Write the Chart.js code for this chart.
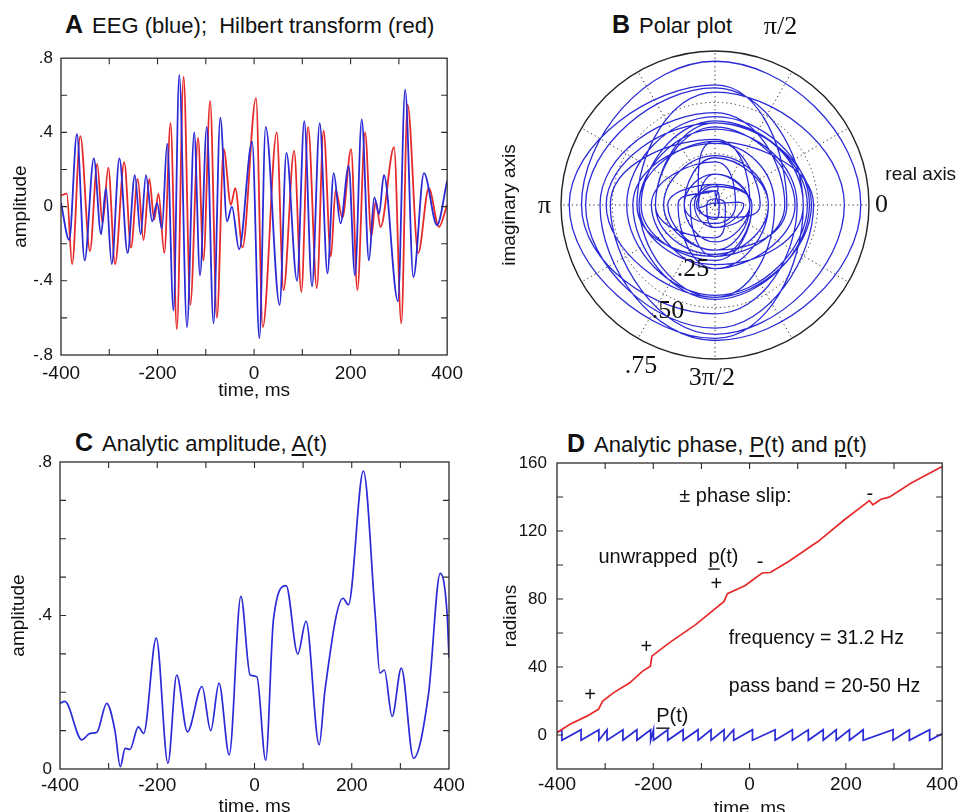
<!DOCTYPE html>
<html>
<head>
<meta charset="utf-8">
<title>EEG analytic signal</title>
<script src="https://cdn.jsdelivr.net/npm/chart.js@4.4.1/dist/chart.umd.min.js"></script>
<style>
html,body{margin:0;padding:0;background:#fff;}
body{position:relative;width:962px;height:812px;overflow:hidden;}
canvas{position:absolute;}
.ttl{position:absolute;font-family:"Liberation Sans",Arial,Helvetica,sans-serif;font-size:22px;line-height:26px;color:#111;white-space:nowrap;}
.ttl b{font-size:25px;margin-right:9px;}
.ttl u{text-decoration:underline;text-underline-offset:3px;text-decoration-thickness:1.5px;}
</style>
</head>
<body>
<div class="ttl" style="left:65px;top:11px"><b>A</b>EEG (blue);&nbsp; Hilbert transform (red)</div>
<div class="ttl" style="left:612px;top:11px"><b>B</b>Polar plot</div>
<div class="ttl" style="left:75px;top:429px"><b>C</b>Analytic amplitude, <u>A</u>(t)</div>
<div class="ttl" style="left:567px;top:430px"><b>D</b>Analytic phase, <u>P</u>(t) and <u>p</u>(t)</div>
<canvas id="chartA" width="470" height="370" style="left:0;top:40px"></canvas>
<canvas id="chartB" width="492" height="400" style="left:470px;top:0"></canvas>
<canvas id="chartC" width="470" height="380" style="left:0;top:440px"></canvas>
<canvas id="chartD" width="492" height="380" style="left:470px;top:440px"></canvas>
<script>
// ---------------- data ----------------
// Panel A: EEG (blue) extrema, time in ms / amplitude
const eegT = [-400,-383,-367,-351,-332,-317,-307,-295,-279,-262,-247,-235,-224,-211,-201,-191,-180,-167,-155,-139,-124,-112,-98,-84,-70,-56,-46,-31,-4,11,24,53,67,89,104,120,136,152,165,179,196,209,223,238,249,259,269,298,313,330,352,379,400];
const eegV = [0.02,-0.18,0.39,-0.29,0.26,-0.15,0.10,-0.31,0.26,-0.25,0.17,-0.15,0.17,-0.08,0.02,-0.12,0.34,-0.56,0.71,-0.65,0.40,-0.37,0.43,-0.63,0.48,-0.08,0.0,-0.23,0.35,-0.71,0.43,-0.53,0.29,-0.40,0.46,-0.43,0.45,-0.36,0.18,-0.09,0.22,-0.37,0.47,-0.29,0.05,-0.04,0.17,-0.51,0.63,-0.38,0.18,-0.10,0.14];
// Panel A: Hilbert transform (red) extrema
const hilT = [-400,-388,-377,-360,-340,-325,-314,-302,-288,-269,-255,-241,-229,-217,-207,-198,-186,-173,-160,-146,-132,-116,-105,-91,-77,-63,-48,-39,-24,4,18,47,61,83,98,112,130,144,159,169,183,201,214,230,243,252,262,290,305,318,340,362,383,400];
const hilV = [0.06,0.07,-0.31,0.38,-0.24,0.23,-0.09,0.21,-0.31,0.24,-0.22,0.15,-0.18,0.15,-0.07,0.07,-0.25,0.45,-0.66,0.70,-0.53,0.37,-0.29,0.57,-0.60,0.31,0.01,0.10,-0.22,0.585,-0.65,0.40,-0.45,0.30,-0.46,0.43,-0.44,0.41,-0.27,0.09,-0.06,0.31,-0.45,0.40,-0.16,0.03,-0.11,0.32,-0.63,0.55,-0.25,0.10,-0.11,0.01];
// Panel C: analytic amplitude
const ampT = [-400,-390,-355,-338,-324,-304,-287,-276,-266,-256,-239,-228,-202,-178,-160,-138,-108,-90,-73,-52,-28,-9,5,23,39,65,89,106,133,145,182,193,224,248,258,267,283,302,327,358,382,396,400];
const ampV = [0.171,0.176,0.076,0.093,0.096,0.171,0.10,0.006,0.054,0.051,0.11,0.093,0.341,0.015,0.245,0.097,0.215,0.10,0.224,0.037,0.45,0.245,0.24,0.023,0.39,0.478,0.30,0.385,0.063,0.206,0.445,0.428,0.776,0.406,0.25,0.258,0.137,0.263,0.028,0.197,0.51,0.406,0.29];
// Panel D: unwrapped phase p(t), radians
const phaseT = [-400,-373,-338,-314,-305,-283,-249,-222,-206,-203,-167,-112,-53,-46,-9,26,43,81,142,197,249,256,273,290,335,400];
const phaseV = [1.4,6.3,11.1,15.1,20.0,24.8,30.7,37.6,40.5,46.4,54.2,64.9,78.6,83.1,88.0,95.3,95.6,102.1,113.8,126.6,137.9,135.4,138.7,139.9,148.1,157.9];
// Panel D: wrapped phase P(t) - times of the -pi/+pi wraps, and its levels
const wrapT = [-390,-350,-313,-296,-263,-234,-205.5,-199.6,-170,-138,-107,-80,-53,-33,6,53,89,122,153,180,207.5,236,298,332,374];
const wrapHi = 3.1, wrapLo = -3.1;
const wrapStart = 1.4, wrapEnd = 0.8;
// tick labels
const timeTicks = [-400,-200,0,200,400];
const timeTickLabels = ['-400','-200','0','200','400'];
const ampTicksA = [-0.8,-0.4,0,0.4,0.8];
const ampTickLabelsA = ['-.8','-.4','0','.4','.8'];
const ampTicksC = [0,0.4,0.8];
const ampTickLabelsC = ['0','.4','.8'];
const radTicks = [0,40,80,120,160];
const radTickLabels = ['0','40','80','120','160'];
const polarRings = [0.25,0.5,0.75];
const polarRingLabels = ['.25','.50','.75'];
const polarAngleLabels = ['0','\u03c0/2','\u03c0','3\u03c0/2'];

// ---------------- helpers ----------------
const SANS = '"Liberation Sans", Arial, Helvetica, sans-serif';
const SERIF = '"Liberation Serif", "Times New Roman", serif';
const BLUE = '#2a2ad6', RED = '#e62a2a', INK = '#111';
Chart.defaults.font.family = SANS;
Chart.defaults.color = INK;
Chart.defaults.animation = false;

const pts = (T, V) => T.map((t, i) => ({x: t, y: V[i]}));
const labelFor = (vals, labels) => v => {
  const i = vals.findIndex(a => Math.abs(a - v) < 1e-6);
  return i < 0 ? '' : labels[i];
};

const boxTicks = {
  id: 'boxTicks',
  afterDatasetsDraw(chart) {
    const {ctx, chartArea: a} = chart;
    const xs = chart.scales.x, ys = chart.scales.y;
    ctx.save();
    ctx.strokeStyle = '#2b2b2b';
    ctx.lineWidth = 1.3;
    ctx.strokeRect(a.left, a.top, a.right - a.left, a.bottom - a.top);
    const L = 6;
    ctx.lineWidth = 1.1;
    ctx.beginPath();
    xs.ticks.forEach(t => {
      const p = xs.getPixelForValue(t.value);
      if (p <= a.left + 1 || p >= a.right - 1) return;
      ctx.moveTo(p, a.bottom); ctx.lineTo(p, a.bottom - L);
      ctx.moveTo(p, a.top); ctx.lineTo(p, a.top + L);
    });
    ys.ticks.forEach(t => {
      const p = ys.getPixelForValue(t.value);
      if (p <= a.top + 1 || p >= a.bottom - 1) return;
      ctx.moveTo(a.left, p); ctx.lineTo(a.left + L, p);
      ctx.moveTo(a.right, p); ctx.lineTo(a.right - L, p);
    });
    ctx.stroke();
    ctx.restore();
  }
};

const texts = {
  id: 'texts',
  afterDraw(chart, args, opts) {
    const items = opts.items || [];
    const ctx = chart.ctx;
    const xs = chart.scales.x, ys = chart.scales.y;
    items.forEach(it => {
      ctx.save();
      ctx.font = (it.weight || '') + ' ' + it.size + 'px ' + (it.family || SANS);
      ctx.fillStyle = INK;
      const align = it.align || 'center';
      ctx.textAlign = align;
      ctx.textBaseline = it.baseline || 'alphabetic';
      ctx.translate(xs.getPixelForValue(it.x), ys.getPixelForValue(it.y));
      if (it.rot) ctx.rotate(it.rot);
      ctx.fillText(it.text, 0, 0);
      if (it.u != null) {
        const total = ctx.measureText(it.text).width;
        const left = align === 'left' ? 0 : align === 'center' ? -total / 2 : -total;
        const w0 = ctx.measureText(it.text.slice(0, it.u)).width;
        const w1 = ctx.measureText(it.text[it.u]).width;
        ctx.fillRect(left + w0, it.size * 0.27, w1, 1.4);
      }
      ctx.restore();
    });
  }
};

const polarGrid = {
  id: 'polarGrid',
  beforeDatasetsDraw(chart) {
    const {ctx} = chart;
    const xs = chart.scales.x, ys = chart.scales.y;
    const cx = xs.getPixelForValue(0), cy = ys.getPixelForValue(0);
    const R = v => xs.getPixelForValue(v) - cx;
    const rmax = R(polarRings[polarRings.length - 1]);
    ctx.save();
    ctx.setLineDash([1.3, 3]);
    ctx.strokeStyle = '#333';
    ctx.lineWidth = 1;
    polarRings.slice(0, -1).forEach(r => {
      ctx.beginPath(); ctx.arc(cx, cy, R(r), 0, 2 * Math.PI); ctx.stroke();
    });
    for (let k = 0; k < 12; k++) {
      const a = k * Math.PI / 6;
      ctx.beginPath();
      ctx.moveTo(cx, cy);
      ctx.lineTo(cx + rmax * Math.cos(a), cy - rmax * Math.sin(a));
      ctx.stroke();
    }
    ctx.setLineDash([]);
    ctx.lineWidth = 1.4;
    ctx.strokeStyle = '#222';
    ctx.beginPath(); ctx.arc(cx, cy, rmax, 0, 2 * Math.PI); ctx.stroke();
    ctx.restore();
  }
};

function timeAxis(height, pad, titlePad) {
  return {
    type: 'linear', min: -400, max: 400,
    ticks: {stepSize: 100, autoSkip: false, maxRotation: 0, font: {size: 19}, padding: pad,
            callback: labelFor(timeTicks, timeTickLabels)},
    grid: {display: false, drawTicks: false}, border: {display: false},
    title: {display: true, text: 'time, ms', font: {size: 19}, padding: {top: 0, bottom: titlePad}},
    afterFit: s => { s.height = height; }
  };
}
function valueAxis(min, max, step, vals, labels, width, title, titlePad, pad) {
  return {
    type: 'linear', min, max,
    ticks: {stepSize: step, autoSkip: false, font: {size: 17}, padding: pad,
            callback: labelFor(vals, labels)},
    grid: {display: false, drawTicks: false}, border: {display: false},
    title: {display: true, text: title, font: {size: 19}, padding: {top: titlePad, bottom: 0}},
    afterFit: s => { s.width = width; }
  };
}
const basePlugins = {legend: {display: false}, tooltip: {enabled: false}};

// ---------------- Panel A ----------------
new Chart(document.getElementById('chartA'), {
  type: 'line',
  data: {datasets: [
    {label: 'EEG', data: pts(eegT, eegV), borderColor: BLUE, borderWidth: 1.8, pointRadius: 0, cubicInterpolationMode: 'monotone'},
    {label: 'Hilbert transform', data: pts(hilT, hilV), borderColor: RED, borderWidth: 1.8, pointRadius: 0, cubicInterpolationMode: 'monotone'}
  ]},
  options: {
    responsive: false, devicePixelRatio: 1,
    layout: {padding: {left: 0, top: 9, right: 21, bottom: 0}},
    scales: {
      x: timeAxis(55, 7, 8),
      y: valueAxis(-0.8, 0.8, 0.2, ampTicksA, ampTickLabelsA, 61, 'amplitude', 9, 8)
    },
    plugins: basePlugins
  },
  plugins: [boxTicks]
});

// ---------------- Panel B (polar) ----------------
const polarPts = eegT.map((t, i) => ({t, x: eegV[i], y: 0}))
  .concat(hilT.map((t, i) => ({t, x: 0, y: hilV[i]})))
  .sort((a, b) => a.t - b.t)
  .map(p => ({x: p.x, y: p.y}));

new Chart(document.getElementById('chartB'), {
  type: 'scatter',
  data: {datasets: [
    {label: 'analytic signal', data: polarPts, showLine: true, borderColor: BLUE, borderWidth: 1.3, pointRadius: 0, tension: 0.5}
  ]},
  options: {
    responsive: false, devicePixelRatio: 1,
    layout: {padding: {left: 91, top: 51, right: 93, bottom: 41}},
    scales: {
      x: {type: 'linear', min: -0.75, max: 0.75, display: false},
      y: {type: 'linear', min: -0.75, max: 0.75, display: false}
    },
    plugins: Object.assign({}, basePlugins, {
      texts: {items: [
        {x: 0.811, y: 0, text: polarAngleLabels[0], size: 26, family: SERIF, baseline: 'middle'},
        {x: 0.319, y: 0.865, text: polarAngleLabels[1], size: 26, family: SERIF, baseline: 'middle'},
        {x: -0.83, y: -0.005, text: polarAngleLabels[2], size: 26, family: SERIF, baseline: 'middle'},
        {x: -0.015, y: -0.843, text: polarAngleLabels[3], size: 26, family: SERIF, baseline: 'middle'},
        {x: -0.107, y: -0.312, text: polarRingLabels[0], size: 26, family: SERIF, baseline: 'middle'},
        {x: -0.229, y: -0.516, text: polarRingLabels[1], size: 26, family: SERIF, baseline: 'middle'},
        {x: -0.36, y: -0.784, text: polarRingLabels[2], size: 26, family: SERIF, baseline: 'middle'},
        {x: 1.002, y: 0.146, text: 'real axis', size: 19, baseline: 'middle'},
        {x: -1.0, y: 0, text: 'imaginary axis', size: 19, baseline: 'middle', rot: -Math.PI / 2}
      ]}
    })
  },
  plugins: [polarGrid, texts]
});

// ---------------- Panel C ----------------
new Chart(document.getElementById('chartC'), {
  type: 'line',
  data: {datasets: [
    {label: 'A(t)', data: pts(ampT, ampV), borderColor: BLUE, borderWidth: 1.7, pointRadius: 0, cubicInterpolationMode: 'monotone'}
  ]},
  options: {
    responsive: false, devicePixelRatio: 1,
    layout: {padding: {left: 0, top: 22, right: 21, bottom: 0}},
    scales: {
      x: timeAxis(51, 5, 2),
      y: valueAxis(0, 0.8, 0.1, ampTicksC, ampTickLabelsC, 60, 'amplitude', 7, 8)
    },
    plugins: basePlugins
  },
  plugins: [boxTicks]
});

// ---------------- Panel D ----------------
const wrapPts = [{x: -400, y: wrapStart}];
wrapT.forEach(t => { wrapPts.push({x: t, y: wrapHi}); wrapPts.push({x: t, y: wrapLo}); });
wrapPts.push({x: 400, y: wrapEnd});

new Chart(document.getElementById('chartD'), {
  type: 'line',
  data: {datasets: [
    {label: 'p(t)', data: pts(phaseT, phaseV), borderColor: RED, borderWidth: 1.7, pointRadius: 0},
    {label: 'P(t)', data: wrapPts, borderColor: BLUE, borderWidth: 1.7, pointRadius: 0}
  ]},
  options: {
    responsive: false, devicePixelRatio: 1,
    layout: {padding: {left: 0, top: 23, right: 17, bottom: 0}},
    scales: {
      x: timeAxis(51, 4, 0),
      y: valueAxis(-20, 160, 20, radTicks, radTickLabels, 87, 'radians', 29, 10)
    },
    plugins: Object.assign({}, basePlugins, {
      texts: {items: [
        {x: -146, y: 137.2, text: '\u00b1 phase slip:', size: 20, align: 'left'},
        {x: 250, y: 141.6, text: '-', size: 20, baseline: 'middle'},
        {x: -314, y: 101.2, text: 'unwrapped  p(t)', size: 20, align: 'left', u: 11},
        {x: 22, y: 101.2, text: '-', size: 20, baseline: 'middle'},
        {x: -69, y: 88.4, text: '+', size: 20, baseline: 'middle'},
        {x: -43, y: 53.6, text: 'frequency = 31.2 Hz', size: 19.5, align: 'left'},
        {x: -214.6, y: 51.3, text: '+', size: 20, baseline: 'middle'},
        {x: -43, y: 25.2, text: 'pass band = 20-50 Hz', size: 19.5, align: 'left'},
        {x: -331.4, y: 23.3, text: '+', size: 20, baseline: 'middle'},
        {x: -194, y: 7.6, text: 'P(t)', size: 20, align: 'left', u: 0}
      ]}
    })
  },
  plugins: [boxTicks, texts]
});
</script>
</body>
</html>
